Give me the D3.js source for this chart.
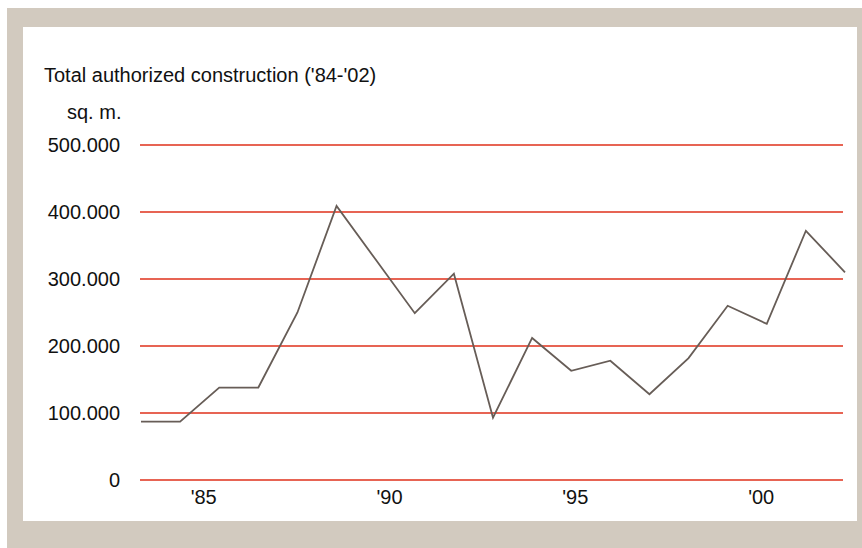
<!DOCTYPE html>
<html>
<head>
<meta charset="utf-8">
<script src="https://cdn.jsdelivr.net/npm/d3@7"></script>
<style>
  html, body { margin: 0; padding: 0; background: #ffffff; }
  svg { display: block; }
  text { font-family: "Liberation Sans", Arial, Helvetica, sans-serif; fill: #111; }
</style>
</head>
<body>
<svg id="chart" width="862" height="548"></svg>
<script>
// Total authorized construction, square metres per year
const years = [1984, 1985, 1986, 1987, 1988, 1989, 1990, 1991, 1992, 1993,
               1994, 1995, 1996, 1997, 1998, 1999, 2000, 2001, 2002];
const area  = [87000, 87000, 138000, 138000, 250000, 409000, 329000, 249000, 308000, 93000,
               212000, 163000, 178000, 128000, 182000, 260000, 233000, 372000, 310000];
const yTicks = [0, 100000, 200000, 300000, 400000, 500000];
const labelYears = [1985, 1990, 1995, 2000];
const title = "Total authorized construction ('84-'02)";
const unit = "sq. m.";

const svg = d3.select("#chart");
const W = 862, H = 548;
const FONT = "20px";

// frame: beige border around a white panel
svg.append("rect").attr("x", 7).attr("y", 8).attr("width", W - 7).attr("height", H - 8)
  .attr("fill", "#d2cabf");
svg.append("rect").attr("x", 23).attr("y", 27).attr("width", 834).attr("height", 494)
  .attr("fill", "#ffffff");

const plot = { left: 140, right: 843, top: 145, bottom: 480 };

const x = d3.scaleLinear().domain([1984, 2002]).range([141, 845]);
const xLabel = d3.scaleLinear().domain([1984, 2002]).range([166, 835]);
const y = d3.scaleLinear().domain([0, 500000]).range([plot.bottom, plot.top]);

const fmt = v => v === 0 ? "0" : d3.format(",")(v).replace(/,/g, ".");

// horizontal grid lines
svg.append("g")
  .selectAll("line").data(yTicks).join("line")
  .attr("x1", plot.left).attr("x2", plot.right)
  .attr("y1", d => y(d)).attr("y2", d => y(d))
  .attr("stroke", "#df301b").attr("stroke-width", 1.6);

// y axis labels
const yAxis = d3.axisLeft(y).tickValues(yTicks).tickFormat(fmt).tickSize(0).tickPadding(0);
const gy = svg.append("g").attr("transform", "translate(120,0)").call(yAxis);
gy.select(".domain").remove();
gy.selectAll("text").style("font-size", FONT).attr("fill", "#111")
  .style("font-family", "'Liberation Sans', Arial, sans-serif");

// x axis labels
const xAxis = d3.axisBottom(xLabel).tickValues(labelYears)
  .tickFormat(d => "'" + String(d).slice(2)).tickSize(0).tickPadding(0);
const gx = svg.append("g").attr("transform", "translate(0,490)").call(xAxis);
gx.select(".domain").remove();
gx.selectAll("text").style("font-size", FONT).attr("fill", "#111")
  .style("font-family", "'Liberation Sans', Arial, sans-serif");

// series line
const line = d3.line().x((d, i) => x(years[i])).y(d => y(d));
svg.append("path").datum(area)
  .attr("d", line)
  .attr("fill", "none")
  .attr("stroke", "#675d57")
  .attr("stroke-width", 1.8)
  .attr("stroke-linejoin", "miter");

// title and unit
svg.append("text").attr("x", 44).attr("y", 82)
  .style("font-size", FONT).text(title);
svg.append("text").attr("x", 67).attr("y", 119)
  .style("font-size", FONT).text(unit);
</script>
</body>
</html>
